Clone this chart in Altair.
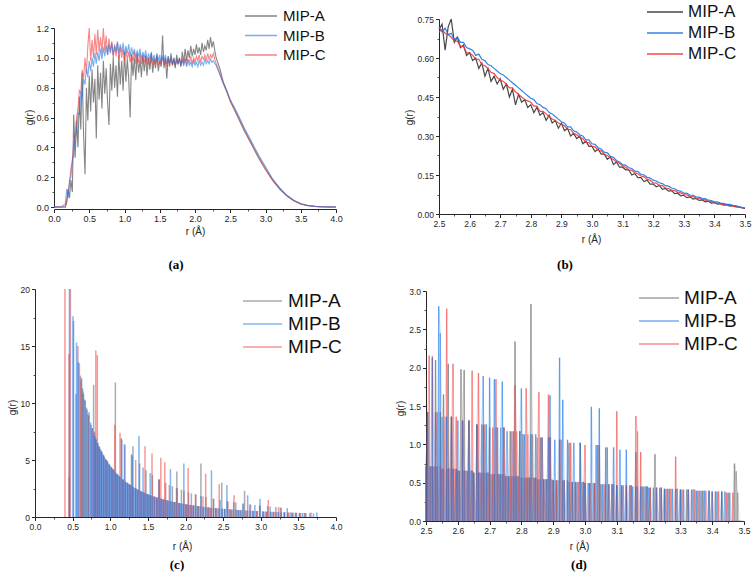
import altair as alt
import numpy as np
import pandas as pd

SERIES = ["MIP-A", "MIP-B", "MIP-C"]
DRAW_ORDER = ["MIP-A", "MIP-C", "MIP-B"]
COLORS_SMOOTH = ["#333333", "#1e76e3", "#f23535"]
COLORS_SPIKY = ["#666666", "#1a78ea", "#f04444"]

# ---------------- (a) g(r) over 0-4 Å ----------------
R_A_HEAD = [0.0, 0.1]
R_A_GRID = np.round(np.arange(0.16, 2.3001, 0.02), 2).tolist()   # 0.02 Å bins
R_A_TAIL = [2.35, 2.40, 2.45, 2.50, 2.60, 2.70, 2.80, 2.90, 3.00, 3.10,
            3.20, 3.30, 3.40, 3.50, 3.60, 3.70, 3.80, 3.90, 4.00]
GA_HEAD = [0.0, 0.0]

GA_A = [0.00, 0.03, 0.12, 0.06, 0.18, 0.10, 0.62, 0.33, 0.58, 0.40,
        0.74, 0.52, 0.90, 0.48, 0.22, 0.80, 0.58, 0.88, 0.64, 0.92,
        0.70, 0.86, 0.46, 0.95, 0.72, 0.90, 0.66, 0.98, 0.76, 0.93,
        0.70, 0.55, 0.96, 0.78, 1.00, 0.80, 0.95, 0.74, 1.02, 0.82,
        0.98, 0.78, 1.04, 0.84, 0.99, 0.86, 0.60, 1.02, 0.88, 1.00,
        0.85, 1.03, 0.90, 0.99, 0.87, 1.02, 0.91, 1.01, 0.88, 1.00,
        0.92, 1.03, 0.90, 0.99, 0.93, 1.02, 0.91, 0.98, 0.94, 1.15,
        0.93, 1.00, 0.86, 1.01, 0.94, 1.03, 0.95, 0.99, 0.93, 1.02,
        0.96, 1.00, 0.94, 1.04, 0.97, 1.06, 0.98, 1.05, 1.00, 1.08,
        1.01, 1.06, 1.02, 1.09, 1.03, 1.07, 1.02, 1.10, 1.04, 1.08,
        1.05, 1.12, 1.06, 1.14, 1.07, 1.11, 1.05, 1.00]
GA_B = [0.02, 0.12, 0.06, 0.18, 0.20, 0.32, 0.35, 0.48, 0.50, 0.63,
        0.62, 0.76, 0.74, 0.86, 0.82, 0.93, 0.87, 0.98, 0.91, 1.00,
        0.94, 1.03, 0.96, 1.04, 0.98, 1.06, 0.99, 1.07, 1.01, 1.08,
        1.02, 1.09, 1.03, 1.10, 1.02, 1.08, 1.04, 1.11, 1.03, 1.09,
        1.04, 1.10, 1.02, 1.08, 1.03, 1.09, 1.01, 1.07, 1.02, 1.06,
        1.00, 1.05, 1.01, 1.06, 0.99, 1.04, 1.00, 1.05, 0.98, 1.03,
        0.99, 1.04, 0.98, 1.02, 0.97, 1.03, 0.98, 1.02, 0.97, 1.01,
        0.98, 1.02, 0.96, 1.01, 0.97, 1.00, 0.96, 1.00, 0.95, 0.99,
        0.96, 0.99, 0.95, 0.98, 0.95, 0.99, 0.94, 0.98, 0.95, 0.97,
        0.94, 0.98, 0.95, 0.97, 0.94, 0.98, 0.95, 0.97, 0.95, 0.99,
        0.96, 0.98, 0.96, 0.99, 0.97, 0.98, 0.96, 0.95]
GA_C = [0.00, 0.04, 0.10, 0.16, 0.26, 0.30, 0.42, 0.48, 0.60, 0.66,
        0.78, 0.76, 0.92, 0.86, 1.00, 0.90, 1.08, 1.20, 0.98, 1.12,
        1.00, 1.16, 1.02, 1.19, 1.04, 1.14, 1.03, 1.20, 1.05, 1.15,
        1.02, 1.13, 1.04, 1.11, 1.00, 1.09, 1.01, 1.10, 0.99, 1.07,
        1.00, 1.06, 0.98, 1.05, 0.99, 1.04, 0.97, 1.03, 0.98, 1.04,
        0.96, 1.02, 0.97, 1.03, 0.96, 1.01, 0.97, 1.02, 0.95, 1.00,
        0.96, 1.01, 0.95, 1.00, 0.96, 1.01, 0.95, 0.99, 0.96, 1.00,
        0.95, 0.99, 0.94, 1.00, 0.96, 0.99, 0.95, 1.00, 0.95, 0.98,
        0.96, 1.00, 0.95, 0.99, 0.96, 1.00, 0.96, 0.99, 0.97, 1.01,
        0.96, 1.00, 0.97, 1.01, 0.98, 1.02, 0.97, 1.01, 0.99, 1.02,
        0.98, 1.03, 0.99, 1.02, 1.00, 1.03, 0.99, 0.96]
GA_TAIL_A = [0.93, 0.84, 0.78, 0.71, 0.61, 0.51, 0.42, 0.33, 0.25, 0.18,
             0.12, 0.075, 0.042, 0.02, 0.009, 0.004, 0.001, 0.0, 0.0]
GA_TAIL_B = [0.89, 0.83, 0.78, 0.72, 0.63, 0.53, 0.44, 0.35, 0.27, 0.19,
             0.13, 0.08, 0.046, 0.022, 0.01, 0.004, 0.002, 0.001, 0.0]
GA_TAIL_C = [0.90, 0.83, 0.77, 0.71, 0.62, 0.52, 0.43, 0.34, 0.26, 0.18,
             0.125, 0.078, 0.044, 0.021, 0.01, 0.004, 0.002, 0.001, 0.0]

# ---------------- (b) tail region 2.5-3.5 Å ----------------
R_B = np.round(np.arange(2.50, 3.5001, 0.01), 2).tolist()
GB_A = [0.71, 0.73, 0.63, 0.72, 0.75, 0.66, 0.68, 0.64, 0.65, 0.61,
        0.62, 0.59, 0.60, 0.56, 0.58, 0.53, 0.56, 0.51, 0.53, 0.50,
        0.52, 0.48, 0.50, 0.45, 0.48, 0.42, 0.46, 0.43, 0.44, 0.41,
        0.42, 0.39, 0.41, 0.38, 0.39, 0.36, 0.38, 0.35, 0.36, 0.33,
        0.35, 0.32, 0.33, 0.30, 0.31, 0.29, 0.30, 0.27, 0.28, 0.26,
        0.26, 0.24, 0.25, 0.23, 0.23, 0.21, 0.22, 0.19, 0.20, 0.18,
        0.18, 0.17, 0.17, 0.15, 0.155, 0.14, 0.14, 0.125, 0.13, 0.115,
        0.115, 0.105, 0.11, 0.095, 0.098, 0.088, 0.09, 0.078, 0.08, 0.07,
        0.072, 0.063, 0.066, 0.057, 0.06, 0.052, 0.054, 0.047, 0.049, 0.042,
        0.044, 0.038, 0.04, 0.034, 0.036, 0.03, 0.032, 0.027, 0.028, 0.023,
        0.022]
GB_B = [0.72, 0.70, 0.715, 0.69, 0.695, 0.67, 0.68, 0.66, 0.66, 0.64,
        0.635, 0.63, 0.61, 0.615, 0.595, 0.59, 0.575, 0.57, 0.56, 0.55,
        0.54, 0.535, 0.525, 0.515, 0.505, 0.495, 0.485, 0.475, 0.465, 0.455,
        0.445, 0.44, 0.425, 0.42, 0.41, 0.405, 0.39, 0.385, 0.375, 0.365,
        0.355, 0.35, 0.335, 0.335, 0.32, 0.315, 0.305, 0.30, 0.285, 0.285,
        0.27, 0.268, 0.255, 0.25, 0.238, 0.235, 0.222, 0.218, 0.206, 0.2,
        0.19, 0.188, 0.178, 0.175, 0.165, 0.163, 0.153, 0.15, 0.141, 0.138,
        0.13, 0.127, 0.12, 0.117, 0.109, 0.107, 0.1, 0.097, 0.09, 0.088,
        0.08, 0.079, 0.073, 0.072, 0.066, 0.065, 0.06, 0.059, 0.053, 0.052,
        0.047, 0.047, 0.042, 0.041, 0.037, 0.037, 0.033, 0.032, 0.028, 0.026,
        0.023]
GB_C = [0.70, 0.71, 0.695, 0.69, 0.68, 0.665, 0.665, 0.645, 0.645, 0.62,
        0.62, 0.61, 0.595, 0.595, 0.575, 0.57, 0.56, 0.545, 0.54, 0.525,
        0.515, 0.51, 0.50, 0.485, 0.485, 0.47, 0.46, 0.45, 0.44, 0.435,
        0.43, 0.415, 0.415, 0.395, 0.395, 0.385, 0.375, 0.365, 0.36, 0.35,
        0.345, 0.34, 0.325, 0.325, 0.31, 0.305, 0.295, 0.29, 0.275, 0.275,
        0.26, 0.258, 0.245, 0.243, 0.23, 0.225, 0.215, 0.21, 0.20, 0.195,
        0.185, 0.18, 0.17, 0.168, 0.158, 0.155, 0.146, 0.143, 0.133, 0.13,
        0.12, 0.119, 0.11, 0.109, 0.1, 0.098, 0.092, 0.09, 0.083, 0.081,
        0.075, 0.074, 0.068, 0.067, 0.061, 0.06, 0.055, 0.054, 0.049, 0.048,
        0.043, 0.042, 0.039, 0.037, 0.034, 0.033, 0.03, 0.029, 0.026, 0.025,
        0.022]

# ---------------- (c) sparse-bin g(r), 0-4 Å: (r, g) of non-empty bins ----------------
SPIKES_C_A = [
    (0.455, 3.5), (0.603, 12.4), (0.631, 11.3), (0.662, 10.3), (0.684, 9.6), (0.713, 8.9),
    (0.746, 8.1), (0.779, 11.6), (0.805, 6.9), (0.832, 6.5), (0.858, 6.1), (0.884, 5.8),
    (0.910, 5.4), (0.937, 5.1), (0.962, 4.9), (0.990, 4.6), (1.014, 4.4), (1.040, 4.2),
    (1.068, 11.8), (1.090, 3.8), (1.118, 3.6), (1.146, 6.9), (1.172, 3.3), (1.200, 3.1),
    (1.228, 3.0), (1.256, 2.9), (1.282, 5.5), (1.302, 6.2), (1.335, 2.5), (1.362, 2.4),
    (1.390, 4.7), (1.418, 2.2), (1.447, 2.15), (1.475, 4.1), (1.503, 2.0), (1.532, 1.9),
    (1.560, 3.7), (1.590, 1.78), (1.620, 1.71), (1.650, 3.3), (1.678, 1.6), (1.707, 1.54),
    (1.736, 3.0), (1.765, 1.44), (1.795, 1.4), (1.826, 2.7), (1.856, 1.31), (1.885, 4.0),
    (1.916, 1.23), (1.946, 2.4), (1.977, 1.15), (2.008, 1.12), (2.040, 2.16), (2.072, 1.05),
    (2.105, 1.02), (2.138, 1.98), (2.170, 0.96), (2.205, 4.7), (2.238, 0.9), (2.272, 1.75),
    (2.306, 0.85), (2.340, 0.82), (2.375, 1.6), (2.410, 0.77), (2.446, 0.75), (2.482, 3.0),
    (2.518, 0.71), (2.555, 1.38), (2.592, 0.67), (2.630, 0.65), (2.668, 1.27), (2.706, 0.61),
    (2.745, 0.6), (2.785, 2.3), (2.825, 0.56), (2.865, 1.1), (2.905, 0.53), (2.948, 0.52),
    (2.990, 1.0), (3.035, 0.49), (3.080, 0.47), (3.125, 0.92), (3.170, 0.45), (3.215, 0.44),
    (3.262, 0.85), (3.310, 0.41), (3.360, 0.4), (3.410, 0.39), (3.460, 0.38), (3.520, 0.36),
    (3.580, 0.35),
]
SPIKES_C_B = [
    (0.458, 20.0), (0.505, 17.6), (0.512, 17.2), (0.545, 10.8), (0.552, 15.3), (0.575, 13.6),
    (0.620, 12.2), (0.645, 10.8), (0.668, 10.2), (0.692, 9.4), (0.718, 9.2), (0.738, 8.3),
    (0.762, 7.8), (0.782, 7.4), (0.795, 7.1), (0.815, 6.8), (0.835, 6.5), (0.852, 6.2),
    (0.870, 5.95), (0.890, 5.7), (0.905, 5.5), (0.925, 5.25), (0.945, 5.05), (0.962, 4.9),
    (0.980, 4.7), (0.998, 4.5), (1.016, 4.35), (1.033, 4.2), (1.050, 4.1), (1.068, 3.95),
    (1.085, 3.8), (1.102, 3.7), (1.120, 3.6), (1.137, 3.5), (1.154, 6.8), (1.170, 3.3),
    (1.188, 6.4), (1.205, 3.1), (1.222, 3.0), (1.240, 2.9), (1.258, 2.85), (1.275, 2.77),
    (1.292, 5.4), (1.310, 2.62), (1.328, 2.55), (1.345, 2.49), (1.364, 2.42), (1.382, 7.1),
    (1.400, 2.3), (1.418, 2.24), (1.436, 4.35), (1.455, 2.13), (1.474, 2.07), (1.493, 2.02),
    (1.512, 1.97), (1.531, 3.85), (1.550, 1.87), (1.570, 1.83), (1.590, 1.78), (1.610, 1.74),
    (1.630, 1.7), (1.650, 3.3), (1.670, 1.61), (1.690, 1.58), (1.712, 1.54), (1.734, 1.5),
    (1.756, 1.46), (1.778, 1.42), (1.800, 4.2), (1.822, 1.36), (1.845, 1.32), (1.868, 1.29),
    (1.890, 2.52), (1.913, 1.23), (1.936, 1.2), (1.960, 1.17), (1.978, 4.7), (2.003, 1.12),
    (2.028, 1.1), (2.052, 1.07), (2.078, 2.08), (2.103, 1.02), (2.128, 1.0), (2.154, 0.97),
    (2.180, 0.95), (2.206, 1.85), (2.232, 0.9), (2.260, 0.88), (2.288, 0.86), (2.316, 0.84),
    (2.345, 4.1), (2.372, 0.8), (2.400, 0.78), (2.430, 0.76), (2.460, 1.49), (2.490, 0.73),
    (2.520, 0.71), (2.550, 2.8), (2.580, 0.68), (2.610, 0.66), (2.640, 1.29), (2.670, 0.63),
    (2.700, 0.62), (2.730, 0.6), (2.762, 1.18), (2.794, 0.58), (2.826, 1.9), (2.858, 0.55),
    (2.890, 0.54), (2.922, 1.05), (2.956, 0.52), (2.990, 1.6), (3.024, 0.49), (3.058, 0.48),
    (3.092, 0.94), (3.128, 0.46), (3.165, 0.45), (3.200, 0.88), (3.238, 0.43), (3.275, 0.42),
    (3.314, 0.41), (3.352, 0.8), (3.390, 0.39), (3.430, 0.38), (3.470, 0.37), (3.512, 0.36),
    (3.555, 0.36), (3.600, 0.35), (3.650, 0.34), (3.700, 0.33), (3.745, 0.4),
]
SPIKES_C_C = [
    (0.398, 20.0), (0.452, 14.3), (0.470, 20.0), (0.570, 15.0), (0.590, 13.5), (0.612, 12.0),
    (0.640, 11.0), (0.705, 9.0), (0.760, 7.8), (0.792, 7.5), (0.808, 14.6), (0.828, 14.2),
    (0.850, 6.2), (0.880, 5.8), (0.915, 5.4), (0.948, 5.0), (0.985, 4.6), (1.025, 4.3),
    (1.060, 8.1), (1.095, 3.75), (1.130, 7.4), (1.165, 3.3), (1.196, 6.3), (1.232, 3.0),
    (1.268, 2.8), (1.300, 2.66), (1.338, 5.0), (1.370, 2.4), (1.405, 2.28), (1.440, 2.17),
    (1.462, 6.2), (1.495, 2.0), (1.528, 1.93), (1.555, 5.6), (1.585, 1.8), (1.618, 1.72),
    (1.646, 3.3), (1.672, 5.2), (1.700, 1.56), (1.724, 4.8), (1.752, 1.47), (1.785, 2.8),
    (1.815, 1.37), (1.848, 1.32), (1.880, 2.55), (1.912, 1.23), (1.945, 1.19), (1.980, 2.3),
    (2.012, 1.11), (2.035, 4.3), (2.068, 1.05), (2.100, 1.02), (2.132, 2.0), (2.165, 0.96),
    (2.198, 0.93), (2.232, 1.8), (2.268, 3.8), (2.300, 0.85), (2.334, 0.81), (2.368, 1.6),
    (2.402, 0.78), (2.448, 2.9), (2.486, 0.73), (2.525, 0.71), (2.565, 1.37), (2.605, 0.66),
    (2.645, 1.9), (2.685, 0.62), (2.725, 0.61), (2.768, 1.17), (2.810, 0.57), (2.852, 1.1),
    (2.895, 0.54), (2.940, 0.52), (2.985, 1.0), (3.030, 0.49), (3.075, 0.48), (3.100, 1.5),
    (3.145, 0.46), (3.190, 0.44), (3.236, 0.86), (3.272, 0.8), (3.320, 0.41), (3.368, 0.4),
    (3.420, 0.38), (3.475, 0.37), (3.530, 0.36), (3.590, 0.35), (3.668, 0.4),
]

# ---------------- (d) 0.005 Å bins over 2.5-3.5 Å (one row = 0.1 Å) ----------------
R_D = np.round(np.arange(2.5, 3.4951, 0.005), 3).tolist()
GD_A_ROWS = [
    [0.71, 1.42, 0, 0.71, 0.71, 0, 2.10, 0.71, 0, 1.42, 0.68, 1.65, 0, 0.68, 2.05, 0, 1.36, 0.68, 0, 0.68],
    [0.655, 0, 1.98, 1.31, 1.97, 0, 0.655, 1.31, 0, 0.655, 0.63, 0, 1.26, 0.63, 0, 0.63, 1.26, 0, 0.63, 0.63],
    [1.22, 0, 0.61, 0.61, 0, 1.22, 0, 0.61, 0, 1.22, 0.585, 0, 0.585, 1.17, 0, 0.585, 2.34, 0, 0.585, 1.17],
    [0.565, 1.13, 0, 0.565, 0, 0.565, 2.83, 1.13, 0, 0.565, 0, 0.545, 1.09, 0, 0.545, 0, 0.545, 0, 1.09, 0],
    [0.53, 0, 0.53, 0, 1.06, 0, 0.53, 0, 0, 0.53, 1.02, 0, 0.51, 0, 0.51, 0, 0, 1.02, 0, 0.51],
    [0.495, 0, 0, 0.495, 0, 0, 0.495, 0, 0.99, 0, 0.48, 0, 0, 0.48, 0.96, 0, 0, 0.48, 0, 0],
    [0.465, 0, 0, 0.465, 0, 0, 0.465, 0, 0, 0.465, 0, 0, 0.90, 0.45, 0, 0, 0.45, 0, 0, 0.45],
    [0, 0.435, 0, 0, 0.87, 0, 0, 0.435, 0, 0, 0.42, 0, 0, 0.42, 0, 0, 0, 0.42, 0, 0],
    [0.41, 0, 0, 0, 0.41, 0, 0, 0.41, 0, 0, 0, 0.395, 0, 0, 0.395, 0, 0, 0, 0.395, 0],
    [0, 0, 0.385, 0, 0, 0, 0.385, 0, 0, 0, 0.37, 0, 0, 0, 0.75, 0.65, 0.37, 0, 0, 0],
]
GD_B_ROWS = [
    [0.71, 1.42, 0.71, 0.71, 2.13, 0.71, 1.42, 0.71, 2.80, 2.45, 1.36, 0.68, 0, 1.36, 0.68, 0.68, 1.36, 0.68, 0, 0.68],
    [1.31, 0.655, 0, 1.31, 0.655, 0.655, 0, 1.31, 0.655, 0.655, 0.63, 0, 1.26, 0.63, 0.63, 1.26, 1.89, 0.63, 1.26, 0],
    [1.87, 0.61, 0, 1.85, 1.22, 0.61, 0.61, 1.22, 1.82, 0.61, 0.585, 1.17, 0.585, 0, 0.585, 1.17, 0.585, 0.585, 0, 1.17],
    [1.73, 0.565, 1.13, 0, 0.565, 0.565, 1.13, 0, 0.565, 1.13, 0.545, 0, 0.545, 1.09, 0.545, 0, 0.545, 1.09, 1.64, 0.545],
    [0.53, 1.06, 0, 0.53, 2.13, 0, 1.58, 0.53, 0, 1.06, 0.51, 0, 0.51, 1.02, 0, 0.51, 0, 1.02, 0.51, 0],
    [0.495, 0, 0.495, 0, 1.49, 0.495, 0, 0.99, 0, 1.47, 0, 0.48, 0, 0.96, 0, 0.48, 0, 0.48, 0.96, 0],
    [0.465, 0, 0.93, 0, 0.465, 0, 0.93, 0, 0.465, 0, 0.45, 0, 0.45, 0, 0, 0.45, 0, 0.45, 0, 0.45],
    [0.435, 0, 0, 0.435, 0, 0.435, 0, 0, 0.435, 0, 0.42, 0, 0.42, 0, 0, 0.42, 0, 0, 0.42, 0],
    [0.41, 0, 0.41, 0, 0, 0.41, 0, 0, 0.41, 0, 0.395, 0, 0, 0.395, 0, 0.395, 0, 0, 0.395, 0],
    [0.385, 0, 0, 0.385, 0, 0, 0.385, 0, 0.385, 0, 0, 0.37, 0, 0, 0, 0, 0, 0, 0, 0],
]
GD_C_ROWS = [
    [0.71, 1.42, 2.16, 0, 2.15, 0.71, 0.71, 1.42, 0, 0.71, 0.68, 0, 1.36, 2.77, 0.68, 0, 1.36, 2.05, 0.68, 1.36],
    [0.655, 0.655, 0, 1.31, 0.655, 0, 0.655, 1.31, 0, 1.96, 0.63, 0, 1.26, 1.93, 0.63, 0, 0.63, 1.26, 0, 0.63],
    [0.61, 0, 1.22, 0.61, 1.85, 0, 0.61, 0, 0.61, 1.22, 0, 0.585, 0, 0.585, 1.17, 0, 1.77, 1.17, 0.585, 0],
    [0.565, 0, 0.565, 1.73, 1.13, 0, 0.565, 0, 0.565, 0, 1.09, 1.68, 0, 1.09, 0, 0.545, 0, 1.65, 1.09, 0],
    [0.53, 0, 0.53, 0, 0, 1.06, 0, 0.53, 0, 0, 0, 1.02, 0, 0, 0.51, 0, 0.51, 0, 0, 0.51],
    [0.99, 0, 0, 0.495, 0, 0, 0.495, 0, 0, 0.99, 0, 0, 0.48, 0, 0, 0.48, 0, 0, 0.48, 0],
    [1.43, 0, 0, 0.465, 0, 0, 0.465, 0, 0, 0.465, 0, 0, 1.37, 1.17, 0, 0.90, 0, 0, 0.45, 0],
    [0, 0.435, 0, 0, 0, 0.435, 0, 0, 0.435, 0, 0, 0.42, 0, 0, 0.42, 0, 0, 0.84, 0, 0],
    [0, 0.41, 0, 0, 0, 0.41, 0, 0, 0, 0.41, 0, 0, 0.395, 0, 0, 0, 0.395, 0, 0, 0],
    [0.385, 0, 0, 0, 0.385, 0, 0, 0, 0, 0.37, 0, 0, 0, 0.37, 0, 0, 0, 0, 0, 0],
]

# ---------------- page layout ----------------
W, H = 754, 578
SANS = "Liberation Sans"
SERIF = "Liberation Serif"
INK = "#262626"


def flat(rows):
    return [v for row in rows for v in row]


def curve_frame(r, series_values):
    rows = []
    for name in DRAW_ORDER:
        for rv, gv in zip(r, series_values[name]):
            rows.append({"r": rv, "g": gv, "series": name})
    return pd.DataFrame(rows)


def spike_frame(series_spikes):
    rows = []
    for name in DRAW_ORDER:
        for rv, gv in series_spikes[name]:
            rows.append({"r": rv, "g": gv, "series": name})
    return pd.DataFrame(rows)


def major_axis(orient, at, values, fmt, title, title_xy, size):
    offset = at - H if orient == "bottom" else -at
    return alt.Axis(
        orient=orient, offset=offset, values=values, format=fmt, title=title,
        titleX=title_xy[0], titleY=title_xy[1], titleAlign="center", titleBaseline="middle",
        titleFont=SANS, titleFontSize=10, titleFontWeight="normal", titleColor=INK,
        labelFont=SANS, labelFontSize=size, labelColor=INK, labelPadding=2,
        labelOverlap=False, labelFlush=False,
        domainColor=INK, domainWidth=1, tickColor=INK, tickSize=3.5, tickWidth=1,
        grid=False,
    )


def minor_axis(orient, at, values):
    offset = at - H if orient == "bottom" else -at
    return alt.Axis(orient=orient, offset=offset, values=values, labels=False, title=None,
                    domain=False, grid=False, tickColor=INK, tickSize=2, tickWidth=0.8)


def legend(x, y, font_size, line_px, label_offset, row_pad):
    return alt.Legend(
        orient="none", legendX=x, legendY=y, title=None, padding=0,
        symbolType="M-2.5,0H2.5", symbolSize=(line_px / 2.5) ** 2, symbolStrokeWidth=1.5,
        labelFont=SANS, labelFontSize=font_size, labelColor="#111111",
        labelOffset=label_offset, rowPadding=row_pad,
    )


def panel(frame, kind, mark, p, leg):
    xs = alt.Scale(domain=p["xdom"], range=p["xpx"], nice=False, zero=False)
    ys = alt.Scale(domain=p["ydom"], range=p["ypx"], nice=False, zero=False)
    x_axis = major_axis("bottom", p["xat"], p["xticks"], p["xfmt"], "r (Å)", p["xtitle"], p["size"])
    y_axis = major_axis("left", p["yat"], p["yticks"], p["yfmt"], "g(r)", p["ytitle"], p["size"])
    cscale = alt.Scale(domain=SERIES, range=p["colors"])
    out = []
    if kind in ("rule", "rule+line"):
        # one vertical stroke per occupied bin
        spikes = frame[frame["g"] > 0].assign(base=0.0)
        out.append(alt.Chart(spikes).mark_rule(**mark).encode(
            x=alt.X("r:Q", scale=xs, axis=x_axis),
            y=alt.Y("g:Q", scale=ys, axis=y_axis),
            y2=alt.Y2("base:Q"),
            color=alt.Color("series:N", scale=cscale, legend=leg),
        ))
        if kind == "rule+line":
            # the binned profile itself, as a faint polyline through every bin
            out.append(alt.Chart(frame).mark_line(strokeWidth=0.7, opacity=0.3).encode(
                x=alt.X("r:Q", scale=xs, axis=None),
                y=alt.Y("g:Q", scale=ys, axis=None),
                color=alt.Color("series:N", scale=cscale, legend=None),
            ))
    else:
        out.append(alt.Chart(frame).mark_line(**mark).encode(
            x=alt.X("r:Q", scale=xs, axis=x_axis),
            y=alt.Y("g:Q", scale=ys, axis=y_axis),
            color=alt.Color("series:N", scale=cscale, legend=leg),
        ))
    out.append(alt.Chart(pd.DataFrame({"r": p["xdom"], "g": p["ydom"]})).mark_point(opacity=0).encode(
        x=alt.X("r:Q", scale=xs, axis=minor_axis("bottom", p["xat"], p["xminor"])),
        y=alt.Y("g:Q", scale=ys, axis=minor_axis("left", p["yat"], p["yminor"])),
    ))
    return out


def caption(text, x, y):
    return alt.Chart(pd.DataFrame({"t": [text]})).mark_text(
        font=SERIF, fontSize=13, fontWeight="bold", color="#000000", align="center", baseline="middle"
    ).encode(x=alt.value(x), y=alt.value(y), text="t:N")


X_FULL = [0.0, 0.5, 1.0, 1.5, 2.0, 2.5, 3.0, 3.5, 4.0]
X_FULL_MINOR = [0.25, 0.75, 1.25, 1.75, 2.25, 2.75, 3.25, 3.75]
X_ZOOM = [2.5, 2.6, 2.7, 2.8, 2.9, 3.0, 3.1, 3.2, 3.3, 3.4, 3.5]
X_ZOOM_MINOR = [2.55, 2.65, 2.75, 2.85, 2.95, 3.05, 3.15, 3.25, 3.35, 3.45]

P_A = dict(xdom=[0, 4], xpx=[54, 336], ydom=[0, 1.2], ypx=[207, 28], xat=209, yat=54,
           xticks=X_FULL, xminor=X_FULL_MINOR, xfmt=".1f",
           yticks=[0.0, 0.2, 0.4, 0.6, 0.8, 1.0, 1.2], yminor=[0.1, 0.3, 0.5, 0.7, 0.9, 1.1], yfmt=".1f",
           xtitle=(195, 22), ytitle=(-25, 117), size=9, colors=COLORS_SMOOTH)
P_B = dict(xdom=[2.5, 3.5], xpx=[439, 745], ydom=[0, 0.75], ypx=[214, 19], xat=214, yat=439,
           xticks=X_ZOOM, xminor=X_ZOOM_MINOR, xfmt=".1f",
           yticks=[0.0, 0.15, 0.3, 0.45, 0.6, 0.75], yminor=[0.075, 0.225, 0.375, 0.525, 0.675], yfmt=".2f",
           xtitle=(591, 25), ytitle=(-30, 117), size=8.5, colors=COLORS_SMOOTH)
P_C = dict(xdom=[0, 4], xpx=[35, 336], ydom=[0, 20], ypx=[517, 289], xat=517, yat=35,
           xticks=X_FULL, xminor=X_FULL_MINOR, xfmt=".1f",
           yticks=[0, 5, 10, 15, 20], yminor=[2.5, 7.5, 12.5, 17.5], yfmt="d",
           xtitle=(182, 29), ytitle=(-23, 407), size=8.5, colors=COLORS_SPIKY)
P_D = dict(xdom=[2.5, 3.5], xpx=[426, 744], ydom=[0, 3.0], ypx=[521, 291], xat=521, yat=426,
           xticks=X_ZOOM, xminor=X_ZOOM_MINOR, xfmt=".1f",
           yticks=[0.0, 0.5, 1.0, 1.5, 2.0, 2.5, 3.0], yminor=[0.25, 0.75, 1.25, 1.75, 2.25, 2.75], yfmt=".1f",
           xtitle=(579, 25), ytitle=(-26, 408), size=8.5, colors=COLORS_SPIKY)

r_a = R_A_HEAD + R_A_GRID + R_A_TAIL
frame_a = curve_frame(r_a, {
    "MIP-A": GA_HEAD + GA_A + GA_TAIL_A,
    "MIP-B": GA_HEAD + GA_B + GA_TAIL_B,
    "MIP-C": GA_HEAD + GA_C + GA_TAIL_C,
})
frame_b = curve_frame(R_B, {"MIP-A": GB_A, "MIP-B": GB_B, "MIP-C": GB_C})
frame_c = spike_frame({"MIP-A": SPIKES_C_A, "MIP-B": SPIKES_C_B, "MIP-C": SPIKES_C_C})
frame_d = curve_frame(R_D, {"MIP-A": flat(GD_A_ROWS), "MIP-B": flat(GD_B_ROWS), "MIP-C": flat(GD_C_ROWS)})

layers = []
layers += panel(frame_a, "line", {"strokeWidth": 1.1, "opacity": 0.6}, P_A,
                legend(253.5, 8.5, 15, 32, 14.5, 3.5))
layers += panel(frame_b, "line", {"strokeWidth": 1.2, "opacity": 0.9}, P_B,
                legend(656.5, 3.5, 17, 36, 14.5, 3))
layers += panel(frame_c, "rule", {"strokeWidth": 1.5, "opacity": 0.55}, P_C,
                legend(253, 291.5, 19, 39, 16, 3))
layers += panel(frame_d, "rule+line", {"strokeWidth": 1.4, "opacity": 0.6}, P_D,
                legend(649.5, 288.5, 19, 40, 15.5, 3))
layers += [caption("(a)", 176, 265), caption("(b)", 565, 265),
           caption("(c)", 177, 565), caption("(d)", 579, 565)]

chart = (
    alt.layer(*layers)
    .resolve_scale(x="independent", y="independent", color="independent")
    .properties(width=W, height=H, autosize=alt.AutoSizeParams(type="none"), padding=0)
    .configure_view(stroke=None)
)

chart.save("out.html", embed_options={"renderer": "svg", "actions": False})
